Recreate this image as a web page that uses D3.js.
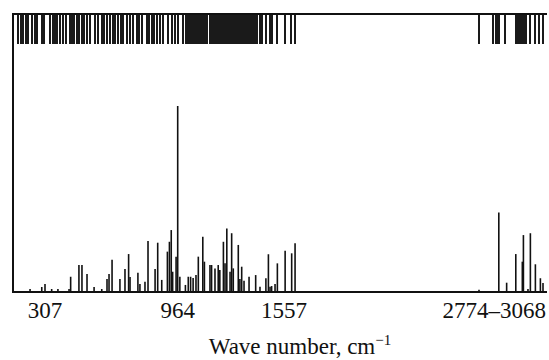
<!DOCTYPE html>
<html>
<head>
<meta charset="utf-8">
<script src="https://cdnjs.cloudflare.com/ajax/libs/d3/7.8.5/d3.min.js"></script>
<style>
  body { margin: 0; background: #fff; }
  svg { display: block; }
  text { font-family: 'Liberation Serif', 'Times New Roman', serif; fill: #111; }
</style>
</head>
<body>
<div id="chart"></div>
<script>
// calculated modes, cm-1 (rug along the top)
const modes = [
  173, 188, 198, 213, 223, 243, 257, 267, 292, 302, 332, 347, 356, 366, 381, 396, 411,
  431, 441, 451, 465, 475, 490, 500, 515, 530, 555, 569, 589, 599, 614, 629, 644, 654,
  668, 683, 693, 713, 728, 743, 763, 772, 787, 812, 822, 837, 847, 861, 876, 891, 916,
  936, 951, 964, 993,
  1010, 1018, 1026, 1035, 1043, 1051, 1060, 1068, 1075, 1085, 1092, 1101, 1109, 1117, 1125,
  1144, 1152, 1160, 1169, 1177, 1186, 1194, 1202, 1211, 1219, 1226, 1235, 1243, 1252, 1260,
  1268, 1277, 1285, 1293, 1302, 1310, 1319, 1327, 1335, 1344, 1352, 1359, 1368, 1376, 1384,
  1395, 1409, 1423, 1432, 1456, 1479, 1490, 1518, 1561, 1588, 1606,
  2774, 2838, 2852, 2859, 2865, 2893, 2943, 2950, 2957, 2964, 2971, 2977, 2984, 2992,
  3007, 3030, 3048, 3068
];

// stick spectrum: frequency and relative intensity
const peakFreq = [
  233, 291, 307, 340, 371, 426, 434, 475, 490, 515, 550, 588, 614, 624, 639, 678, 703,
  721, 728, 767, 777, 802, 817, 852, 865, 885, 913, 923, 932, 939, 956, 964, 976, 1007,
  1023, 1036, 1050, 1066, 1079, 1104, 1113, 1144, 1153, 1172, 1190, 1199, 1219, 1228,
  1238, 1256, 1265, 1274, 1302, 1311, 1321, 1334, 1362, 1399, 1423, 1456, 1470, 1479,
  1488, 1507, 1520, 1562, 1591, 1606,
  2774, 2865, 2901, 2943, 2973, 2978, 2999, 3010, 3033, 3056, 3068
];
const peakInt = [
  1.6, 2.7, 4.3, 1.6, 1.6, 1.6, 8.2, 14.5, 14.5, 9.7, 2.7, 1.6, 7.0, 9.7, 17.4, 7.0, 12.4,
  20.4, 8.1, 10.4, 4.3, 5.5, 27.4, 12.4, 26.5, 6.5, 21.7, 27.0, 33.3, 10.9, 19.0, 100, 8.2, 3.8,
  8.2, 8.2, 7.5, 9.1, 19.0, 29.7, 16.3, 14.5, 14.5, 12.7, 14.5, 11.8, 27.0, 15.4,
  34.2, 10.9, 31.6, 12.7, 25.3, 7.0, 13.6, 6.1, 8.2, 9.1, 2.8, 7.4, 20.3, 2.8,
  3.2, 4.3, 15.4, 22.2, 20.8, 26.2,
  1.2, 42.8, 5.0, 20.4, 16.3, 30.6, 1.6, 31.6, 14.9, 7.4, 4.8
];

const tickValues = [307, 964, 1557];
const rangeTick = [2774, 3068];

const w = 549;
const h = 360;
const m = { left: 13, top: 14, right: 547, bottom: 292 };

// broken axis: the 1650-2774 gap is squeezed
const x = d3.scaleLinear()
  .domain([307, 964, 1557, 1650, 2774, 3068])
  .range([45, 177.7, 284, 305, 479, 543]);

const y = d3.scaleLinear()
  .domain([0, 100])
  .range([m.bottom, 106]);

const svg = d3.select('#chart')
  .append('svg')
  .attr('width', w)
  .attr('height', h);

// rug of modes
svg.append('g')
  .attr('shape-rendering', 'crispEdges')
  .selectAll('line')
  .data(modes)
  .enter()
  .append('line')
  .attr('x1', d => x(d))
  .attr('x2', d => x(d))
  .attr('y1', m.top)
  .attr('y2', 44)
  .attr('stroke', '#1a1a1a')
  .attr('stroke-width', 2);

// sticks
svg.append('g')
  .selectAll('line')
  .data(peakFreq)
  .enter()
  .append('line')
  .attr('x1', d => x(d))
  .attr('x2', d => x(d))
  .attr('y1', m.bottom)
  .attr('y2', (d, i) => y(peakInt[i]))
  .attr('stroke', '#111')
  .attr('stroke-width', 1.6);

// frame (no right edge in the original)
svg.append('path')
  .attr('d', 'M' + m.right + ',' + m.top + 'H' + m.left + 'V' + m.bottom + 'H' + m.right)
  .attr('fill', 'none')
  .attr('stroke', '#111')
  .attr('stroke-width', 2);

// tick labels
svg.append('g')
  .selectAll('text')
  .data(tickValues)
  .enter()
  .append('text')
  .attr('x', d => x(d))
  .attr('y', 318)
  .attr('text-anchor', 'middle')
  .style('font-size', '23px')
  .text(d => d);

svg.append('text')
  .attr('x', x(rangeTick[1]) + 3)
  .attr('y', 318)
  .attr('text-anchor', 'end')
  .style('font-size', '23px')
  .text(rangeTick[0] + '\u2013' + rangeTick[1]);

const title = svg.append('text')
  .attr('x', 300)
  .attr('y', 354)
  .attr('text-anchor', 'middle')
  .style('font-size', '23px');
title.append('tspan').text('Wave number, cm');
title.append('tspan')
  .attr('dy', -9)
  .style('font-size', '15px')
  .text('\u22121');
</script>
</body>
</html>
